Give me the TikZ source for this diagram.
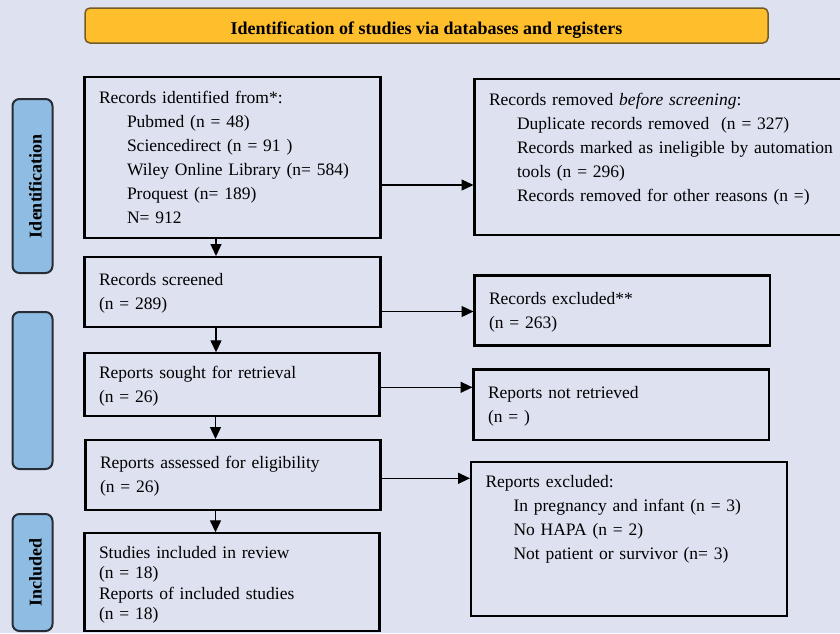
\documentclass[tikz,border=0pt]{standalone}
\usepackage{fontspec}
\setmainfont{Liberation Serif}
\usepackage{tikz}
\usetikzlibrary{arrows.meta, positioning}

\definecolor{bgcol}{RGB}{222,225,240}
\definecolor{titlefill}{RGB}{255,190,44}
\definecolor{titleline}{RGB}{115,92,40}
\definecolor{phasefill}{RGB}{143,188,226}
\definecolor{phaseline}{RGB}{40,44,52}

\newcommand{\srcindent}{\hspace*{28pt}}

\begin{document}
\begin{tikzpicture}[x=1pt, y=-1pt, >=Triangle,
    font=\fontsize{17.5}{24}\selectfont,
    box/.style={draw, line width=2.2pt, rectangle, anchor=north west, outer sep=0pt,
        inner xsep=14.5pt, inner ysep=0pt, align=left},
    phase/.style={draw=phaseline, line width=2pt, fill=phasefill, rounded corners=7pt,
        rotate=90, minimum height=40pt, inner ysep=0pt, text height=29pt, text depth=11pt,
        font=\fontsize{18}{24}\selectfont\bfseries},
    arr/.style={-{Triangle[length=12pt, width=11pt]}, line width=1.3pt, shorten >=1pt}]

    \useasboundingbox (0,0) rectangle (840,633);
    \clip (0,0) rectangle (840,633);
    \fill[bgcol] (0,0) rectangle (840,633);

    \node[draw=titleline, line width=1.5pt, fill=titlefill, rounded corners=5pt, anchor=north west,
        outer sep=0pt, minimum width=683pt, inner ysep=0pt, text height=26pt, text depth=9pt,
        font=\fontsize{18}{24}\selectfont\bfseries] (title) at (85,8)
        {Identification of studies via databases and registers};

    \node[phase, minimum width=174pt] (phid) at (32.5,186) {Identification};
    \node[phase, minimum width=157pt] (phscr) at (32.5,390.5) {};
    \node[phase, minimum width=117pt] (phinc) at (32.5,572.5) {Included};

    \node[box, text width=267pt, text height=26pt, text depth=135pt] (idf) at (84.5,77)
        {Records identified from*:\\
        \srcindent Pubmed (n = 48)\\
        \srcindent Sciencedirect (n = 91 )\\
        \srcindent Wiley Online Library (n= 584)\\
        \srcindent Proquest (n= 189)\\
        \srcindent N= 912};
    \node[box, text width=371pt, text height=26pt, text depth=130pt] (rmv) at (474.5,79)
        {Records removed \textit{before screening}:\\
        \srcindent Duplicate records removed\ \ (n = 327)\\
        \srcindent Records marked as ineligible by automation\\
        \srcindent tools (n = 296)\\
        \srcindent Records removed for other reasons (n =)};

    \node[box, text width=267pt, text height=28pt, text depth=42pt] (scr) at (84.5,257)
        {Records screened\\(n = 289)};
    \node[box, text width=266.5pt, text height=29pt, text depth=41pt] (excl) at (474.5,275.5)
        {Records excluded**\\(n = 263)};

    \node[box, text width=266pt, text height=25pt, text depth=38pt] (sought) at (84.5,353.3)
        {Reports sought for retrieval\\(n = 26)};
    \node[box, text width=266.5pt, text height=29pt, text depth=41.5pt] (notret) at (473.5,369.5)
        {Reports not retrieved\\(n = )};

    \node[box, text width=266pt, text height=28.3pt, text depth=41.7pt] (elig) at (85.5,440)
        {Reports assessed for eligibility\\(n = 26)};
    \node[box, text width=286.7pt, text height=25.7pt, text depth=128.6pt] (repexcl) at (471,462)
        {Reports excluded:\\
        \srcindent In pregnancy and infant (n = 3)\\
        \srcindent No HAPA (n = 2)\\
        \srcindent Not patient or survivor (n= 3)};

    \node[box, text width=266pt, text height=25pt, text depth=72.4pt,
        font=\fontsize{17.5}{20.5}\selectfont] (incl) at (84.5,533.3)
        {Studies included in review\\(n = 18)\\Reports of included studies\\(n = 18)};

    \draw[arr] ([xshift=-16.5pt]idf.south) -- ([xshift=-16.5pt]idf.south |- scr.north);
    \draw[arr] ([xshift=-16.5pt]scr.south) -- ([xshift=-16.5pt]scr.south |- sought.north);
    \draw[arr] ([xshift=-16.5pt]sought.south) -- ([xshift=-16.5pt]sought.south |- elig.north);
    \draw[arr] ([xshift=-17.5pt]elig.south) -- ([xshift=-17.5pt]elig.south |- incl.north);

    \draw[arr] ([yshift=-27.5pt]idf.east) -- ([yshift=-27.5pt]idf.east -| rmv.west);
    \draw[arr] ([yshift=-19.5pt]scr.east) -- ([yshift=-19.5pt]scr.east -| excl.west);
    \draw[arr] ([yshift=-2.5pt]sought.east) -- ([yshift=-2.5pt]sought.east -| notret.west);
    \draw[arr] ([yshift=-3.3pt]elig.east) -- ([yshift=-3.3pt]elig.east -| repexcl.west);

\end{tikzpicture}
\end{document}
